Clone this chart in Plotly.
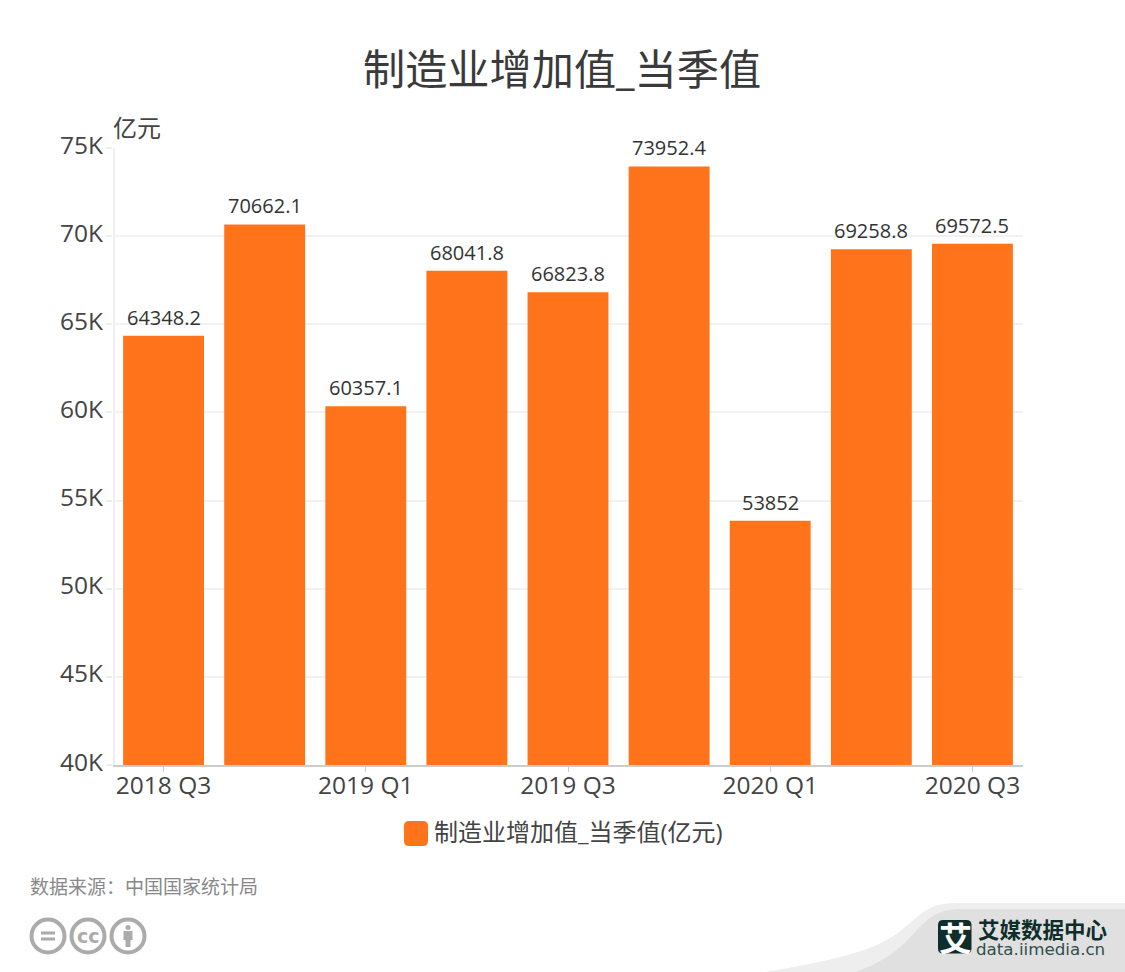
import plotly.graph_objects as go

categories = ["2018 Q3", "2018 Q4", "2019 Q1", "2019 Q2", "2019 Q3", "2019 Q4", "2020 Q1", "2020 Q2", "2020 Q3"]
values = [64348.2, 70662.1, 60357.1, 68041.8, 66823.8, 73952.4, 53852, 69258.8, 69572.5]
value_labels = ["64348.2", "70662.1", "60357.1", "68041.8", "66823.8", "73952.4", "53852", "69258.8", "69572.5"]
x_ticks = ["2018 Q3", "2019 Q1", "2019 Q3", "2020 Q1", "2020 Q3"]
y_ticks = [40000, 45000, 50000, 55000, 60000, 65000, 70000, 75000]
y_tick_labels = ["40K", "45K", "50K", "55K", "60K", "65K", "70K", "75K"]
series_name = "制造业增加值_当季值(亿元)"
title_text = "制造业增加值_当季值"
unit_text = "亿元"
source_text = "数据来源\uff1a中国国家统计局"

W, H = 1125, 972
L, R, T, B = 113, 1023, 148, 765
FONT = "'Open Sans', 'Noto Sans CJK SC', sans-serif"
CJK = "'Noto Sans CJK SC', sans-serif"
ORANGE = "#FF741B"


def px(x):
    return (x - L) / (R - L)


def py(y):
    return (B - y) / (B - T)


def path(cmds):
    out = []
    for c in cmds:
        if isinstance(c, str):
            out.append(c)
        else:
            out.append(f"{px(c[0]):.5f},{py(c[1]):.5f}")
    return " ".join(out)


def shape_path(cmds, fill=None, line=None, lw=0):
    return dict(type="path", xref="paper", yref="paper", path=path(cmds), fillcolor=fill or "rgba(0,0,0,0)",
                line=dict(color=line or "rgba(0,0,0,0)", width=lw), layer="above")


def circle(cx, cy, r, line=None, lw=0, fill=None):
    return dict(type="circle", xref="paper", yref="paper", x0=px(cx - r), x1=px(cx + r), y0=py(cy + r), y1=py(cy - r),
                fillcolor=fill or "rgba(0,0,0,0)", line=dict(color=line or "rgba(0,0,0,0)", width=lw), layer="above")


def rrect(x0, y0, x1, y1, r):
    return ["M", (x0 + r, y0), "L", (x1 - r, y0), "Q", (x1, y0), (x1, y0 + r), "L", (x1, y1 - r),
            "Q", (x1, y1), (x1 - r, y1), "L", (x0 + r, y1), "Q", (x0, y1), (x0, y1 - r), "L", (x0, y0 + r),
            "Q", (x0, y0), (x0 + r, y0), "Z"]


def note(x, y, text, size, color, family=FONT, anchor="left", **kw):
    return dict(xref="paper", yref="paper", x=px(x), y=py(y), text=text, showarrow=False, xanchor=anchor,
                yanchor="middle", font=dict(size=size, color=color, family=family), **kw)


GREY = "#ABABAB"
DARK = "#0F2E2B"
shapes = [
    # left axis rule
    dict(type="line", xref="paper", yref="paper", x0=px(114), x1=px(114), y0=py(148), y1=py(766),
         line=dict(color="#EEEEEE", width=2), layer="below"),
    # footer wave
    shape_path(["M", (765, 972), "C", (830, 961), (870, 952), (895, 935), "C", (920, 917), (925, 903), (955, 903),
                "L", (1125, 903), "L", (1125, 972), "Z"], fill="#EEEEEE"),
    shape_path(["M", (855, 972), "C", (880, 964), (900, 950), (915, 932), "C", (930, 916), (940, 909), (962, 909),
                "L", (1125, 909), "L", (1125, 972), "Z"], fill="#E0E0E0"),
    # logo block
    shape_path(rrect(938, 920, 971.5, 953.5, 5), fill=DARK),
    # legend swatch
    shape_path(rrect(404, 821, 428, 846, 5), fill=ORANGE),
    # licence icons
    circle(48, 936, 16.5, line=GREY, lw=4),
    circle(88, 936, 16.5, line=GREY, lw=4),
    circle(128, 936, 16.5, line=GREY, lw=4),
    shape_path(["M", (41, 931.5), "L", (55, 931.5), "L", (55, 934.5), "L", (41, 934.5), "Z"], fill=GREY),
    shape_path(["M", (41, 937.5), "L", (55, 937.5), "L", (55, 940.5), "L", (41, 940.5), "Z"], fill=GREY),
    circle(128, 927.5, 2.5, fill=GREY),
    shape_path(["M", (123.5, 931), "L", (132.5, 931), "L", (132.5, 940), "L", (130.5, 940), "L", (130.5, 947),
                "L", (125.5, 947), "L", (125.5, 940), "L", (123.5, 940), "Z"], fill=GREY),
]

annotations = [
    note(562, 68, title_text, 42.2, "#3A3A3A", anchor="center"),
    note(111, 127, unit_text, 24, "#444444"),
    note(432, 832, series_name, 24, "#444444"),
    note(28, 885, source_text, 19, "#888888", family=CJK),
    note(88, 936, "<b>cc</b>", 19, GREY, family="'DejaVu Sans', sans-serif", anchor="center"),
    note(955, 937, "<b>艾</b>", 33, "#FFFFFF", family=CJK, anchor="center"),
    note(976, 928.5, "<b>艾媒数据中心</b>", 21.5, DARK, family=CJK),
    note(974, 949, "data.iimedia.cn", 16.7, "#2F4F4C", family="'DejaVu Sans', sans-serif"),
]
for cat, val, lab in zip(categories, values, value_labels):
    annotations.append(dict(xref="x", yref="y", x=cat, y=val, text=lab, showarrow=False, yanchor="middle",
                            yshift=18.5, font=dict(size=20, color="#333333", family=FONT)))

fig = go.Figure(
    go.Bar(
        x=categories,
        y=values,
        name=series_name,
        marker=dict(color=ORANGE, line=dict(width=0)),
        hoverinfo="x+y",
        showlegend=False,
    )
)

fig.update_layout(
    width=W,
    height=H,
    autosize=False,
    margin=dict(l=L, r=W - R, t=T, b=H - B, pad=0),
    paper_bgcolor="#FFFFFF",
    plot_bgcolor="#FFFFFF",
    bargap=0.2,
    font=dict(family=FONT, color="#333333"),
    shapes=shapes,
    annotations=annotations,
)
fig.update_xaxes(
    type="category",
    categoryorder="array",
    categoryarray=categories,
    tickmode="array",
    tickvals=x_ticks,
    ticktext=x_ticks,
    tickangle=0,
    ticks="outside",
    ticklen=5,
    tickwidth=1,
    tickcolor="#CCCCCC",
    tickfont=dict(size=24.5, color="#444444", family=FONT),
    ticklabelstandoff=-7,
    showline=True,
    linecolor="#CCCCCC",
    linewidth=1.5,
    showgrid=False,
    zeroline=False,
)
fig.update_yaxes(
    range=[40000, 75000],
    tickmode="array",
    tickvals=y_ticks,
    ticktext=y_tick_labels,
    ticks="outside",
    ticklen=6,
    tickwidth=1.5,
    tickcolor="#EEEEEE",
    tickfont=dict(size=24.5, color="#444444", family=FONT),
    ticklabelshift=-3,
    ticklabelstandoff=-2,
    showline=False,
    showgrid=True,
    gridcolor="#F2F2F2",
    gridwidth=1.5,
    zeroline=False,
)

fig.write_html("out.html", post_script="document.body.style.margin='0';", config={"displayModeBar": False})
